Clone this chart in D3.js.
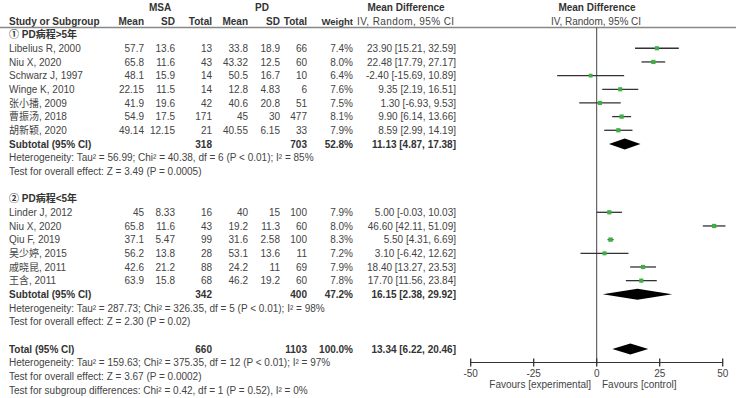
<!DOCTYPE html>
<html><head><meta charset="utf-8">
<script src="https://cdn.jsdelivr.net/npm/d3@7/dist/d3.min.js"></script>
<style>body{margin:0;background:#fff}svg{display:block}text{font-family:"Liberation Sans",Arial,"Noto Sans CJK SC",sans-serif;font-size:10px;fill:#444}</style>
</head><body><svg id="c" width="736" height="398"></svg>
<script>
const studies1 = ["Libelius R, 2000","Niu X, 2020","Schwarz J, 1997","Winge K, 2010","张小播, 2009","曹振汤, 2018","胡新颖, 2020"];
const msaMean1 = ["57.7","65.8","48.1","22.15","41.9","54.9","49.14"];
const msaSD1 = ["13.6","11.6","15.9","11.5","19.6","17.5","12.15"];
const msaN1 = [13,43,14,14,42,171,21];
const pdMean1 = ["33.8","43.32","50.5","12.8","40.6","45","40.55"];
const pdSD1 = ["18.9","12.5","16.7","4.83","20.8","30","6.15"];
const pdN1 = [66,60,10,6,51,477,33];
const weight1 = [7.4,8.0,6.4,7.6,7.5,8.1,7.9];
const md1 = [23.90,22.48,-2.40,9.35,1.30,9.90,8.59];
const lo1 = [15.21,17.79,-15.69,2.19,-6.93,6.14,2.99];
const hi1 = [32.59,27.17,10.89,16.51,9.53,13.66,14.19];

const studies2 = ["Linder J, 2012","Niu X, 2020","Qiu F, 2019","吴少婷, 2015","戚晓昆, 2011","王含, 2011"];
const msaMean2 = ["45","65.8","37.1","56.2","42.6","63.9"];
const msaSD2 = ["8.33","11.6","5.47","13.8","21.2","15.8"];
const msaN2 = [16,43,99,28,88,68];
const pdMean2 = ["40","19.2","31.6","53.1","24.2","46.2"];
const pdSD2 = ["15","11.3","2.58","13.6","11","19.2"];
const pdN2 = [100,60,100,11,69,60];
const weight2 = [7.9,8.0,8.3,7.2,7.9,7.8];
const md2 = [5.00,46.60,5.50,3.10,18.40,17.70];
const lo2 = [-0.03,42.11,4.31,-6.42,13.27,11.56];
const hi2 = [10.03,51.09,6.69,12.62,23.53,23.84];

const pooledLabels = ["Subtotal (95% CI)","Subtotal (95% CI)","Total (95% CI)"];
const pooledMsaN = [318,342,660];
const pooledPdN = [703,400,1103];
const pooledWeight = ["52.8%","47.2%","100.0%"];
const pooledMd = [11.13,16.15,13.34];
const pooledLo = [4.87,2.38,6.22];
const pooledHi = [17.38,29.92,20.46];

const groupTitles = ["① PD病程>5年","② PD病程<5年"];
const hetTexts = [
 ["Heterogeneity: Tau² = 56.99; Chi² = 40.38, df = 6 (P < 0.01); I² = 85%","Test for overall effect: Z = 3.49 (P = 0.0005)"],
 ["Heterogeneity: Tau² = 287.73; Chi² = 326.35, df = 5 (P < 0.01); I² = 98%","Test for overall effect: Z = 2.30 (P = 0.02)"],
 ["Heterogeneity: Tau² = 159.63; Chi² = 375.35, df = 12 (P < 0.01); I² = 97%","Test for overall effect: Z = 3.67 (P = 0.0002)","Test for subgroup differences: Chi² = 0.42, df = 1 (P = 0.52), I² = 0%"]
];
const ticks = [-50,-25,0,25,50];
const favours = ["Favours [experimental]","Favours [control]"];

const svg = d3.select("#c");
const x = d3.scaleLinear().domain([-50,50]).range([470.7,722.7]);
const y = d3.scaleLinear().domain([0,26]).range([34.6,390]);
const f2 = v => v.toFixed(2);
const ci = (m,l,h)=>`${f2(m)} [${f2(l)}, ${f2(h)}]`;
const col = {name:9, msaMean:144, msaSD:175, msaN:212, pdMean:248, pdSD:280, pdN:307, w:353, ci:456};

function txt(xp, yp, s, anchor, bold, size){
  const t = svg.append("text").attr("x",xp).attr("y",yp+3.6).attr("text-anchor",anchor||"start")
    .style("font-weight",bold?"bold":"normal").style("fill",bold?"#333":"#444").text(s);
  if(size) t.style("font-size",size+"px");
  return t;
}
// headers
txt(160,7,"MSA","middle",true);
txt(262,7,"PD","middle",true);
txt(406,7,"Mean Difference","middle",true);
txt(597,7,"Mean Difference","middle",true);
txt(col.name,21,"Study or Subgroup","start",true);
txt(col.msaMean,21,"Mean","end",true);
txt(col.msaSD,21,"SD","end",true);
txt(col.msaN,21,"Total","end",true);
txt(col.pdMean,21,"Mean","end",true);
txt(col.pdSD,21,"SD","end",true);
txt(col.pdN,21,"Total","end",true);
txt(col.w,21,"Weight","end",true,9.5);
txt(357,21,"IV, Random, 95% CI","start",false).style("letter-spacing","0.4px");
txt(596,21,"IV, Random, 95% CI","middle",false);
svg.append("line").attr("x1",0).attr("x2",736).attr("y1",27.5).attr("y2",27.5).attr("stroke","#888").attr("stroke-width",1.3);

// vertical line at 0
svg.append("line").attr("x1",x(0)).attr("x2",x(0)).attr("y1",27.5).attr("y2",362.5).attr("stroke","#444").attr("stroke-width",1);

const groups = [
 {start:0, studies:studies1, mm:msaMean1, ms:msaSD1, mn:msaN1, pm:pdMean1, ps:pdSD1, pn:pdN1, w:weight1, md:md1, lo:lo1, hi:hi1},
 {start:12, studies:studies2, mm:msaMean2, ms:msaSD2, mn:msaN2, pm:pdMean2, ps:pdSD2, pn:pdN2, w:weight2, md:md2, lo:lo2, hi:hi2}
];
function diamond(r,i){
  const yc=y(r), hh=5.5;
  svg.append("path").attr("d",`M${x(pooledLo[i])},${yc}L${x(pooledMd[i])},${yc-hh}L${x(pooledHi[i])},${yc}L${x(pooledMd[i])},${yc+hh}Z`).attr("fill","#000");
}
function pooledRow(r,i){
  txt(col.name,y(r),pooledLabels[i],"start",true);
  txt(col.msaN,y(r),String(pooledMsaN[i]),"end",true);
  txt(col.pdN,y(r),String(pooledPdN[i]),"end",true);
  txt(col.w,y(r),pooledWeight[i],"end",true);
  txt(col.ci,y(r),ci(pooledMd[i],pooledLo[i],pooledHi[i]),"end",true);
  diamond(r,i);
}
groups.forEach((g,gi)=>{
  txt(col.name,y(g.start),groupTitles[gi],"start",true);
  g.studies.forEach((s,i)=>{
    const r=g.start+1+i, yc=y(r);
    txt(col.name,yc,s);
    txt(col.msaMean,yc,g.mm[i],"end");
    txt(col.msaSD,yc,g.ms[i],"end");
    txt(col.msaN,yc,String(g.mn[i]),"end");
    txt(col.pdMean,yc,g.pm[i],"end");
    txt(col.pdSD,yc,g.ps[i],"end");
    txt(col.pdN,yc,String(g.pn[i]),"end");
    txt(col.w,yc,g.w[i].toFixed(1)+"%","end");
    txt(col.ci,yc,ci(g.md[i],g.lo[i],g.hi[i]),"end");
    svg.append("line").attr("x1",x(g.lo[i])).attr("x2",x(g.hi[i])).attr("y1",yc).attr("y2",yc).attr("stroke","#333").attr("stroke-width",1.3);
    const sz=1.5*Math.sqrt(g.w[i]);
    svg.append("rect").attr("x",x(g.md[i])-sz/2).attr("y",yc-sz/2).attr("width",sz).attr("height",sz).attr("fill","#3cb043");
  });
  const pr=g.start+1+g.studies.length;
  pooledRow(pr,gi);
  hetTexts[gi].forEach((t,k)=>txt(col.name,y(pr+1+k),t));
});
pooledRow(23,2);
hetTexts[2].forEach((t,k)=>txt(col.name,y(24+k),t));

// axis
const ay=362.5;
svg.append("line").attr("x1",x(-50)).attr("x2",x(50)).attr("y1",ay).attr("y2",ay).attr("stroke","#333").attr("stroke-width",1);
ticks.forEach(t=>{
  svg.append("line").attr("x1",x(t)).attr("x2",x(t)).attr("y1",ay-4).attr("y2",ay+4).attr("stroke","#333").attr("stroke-width",1.3);
  txt(x(t),373,String(t),"middle");
});
txt(591,384,favours[0],"end");
txt(602,384,favours[1],"start");
</script></body></html>
